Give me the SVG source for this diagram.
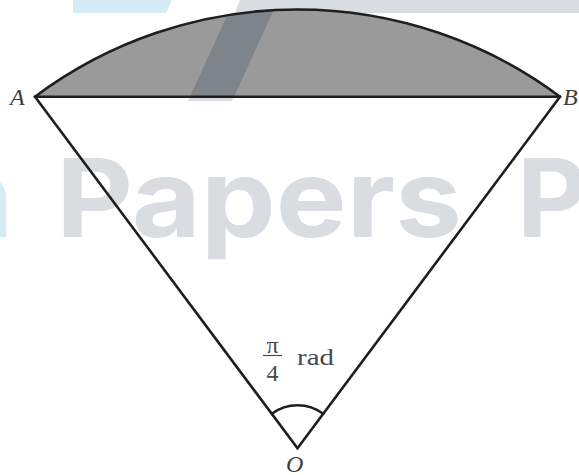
<svg xmlns="http://www.w3.org/2000/svg" width="579" height="475" viewBox="0 0 579 475">
  <style>
    .ln { fill: none; stroke: #1e1e1e; stroke-width: 2.6; stroke-linejoin: round; stroke-linecap: round; }
    .lbl { font-family: "Liberation Serif", "Times New Roman", serif; font-style: italic; font-size: 24px; fill: #3c3c3c; }
    .math { font-family: "Liberation Serif", "Times New Roman", serif; font-size: 24px; fill: #4a4a4a; }
    .wm { font-family: Inter, "Open Sans", sans-serif; font-weight: 700; font-size: 109px; }
  </style>
  <defs>
    <clipPath id="seg">
      <path d="M35,96.7 A438.7,438.7 0 0 1 560,96.7 Z"/>
    </clipPath>
  </defs>
  <rect width="579" height="475" fill="#ffffff"/>
  <!-- watermark -->
  <g id="watermark">
    <polygon points="73,0 172,0 166,13 73,13" fill="#d5ecf5"/>
    <polygon points="240,0 579,0 579,13 235,13" fill="#d9dde1"/>
    <polygon points="188,101 232,101 276,13 232,13" fill="#d9dde1"/>
    <text class="wm" x="13" y="237" text-anchor="end" fill="#d5ecf5">n</text>
    <text class="wm" x="56" y="237" textLength="406" lengthAdjust="spacingAndGlyphs" fill="#d9dde1">Papers</text>
    <text class="wm" x="517" y="237" fill="#d9dde1">P</text>
  </g>
  <!-- shaded segment -->
  <g id="segment">
    <path d="M35,96.7 A438.7,438.7 0 0 1 560,96.7 Z" fill="#9a9a9a"/>
    <polygon points="188,101 232,101 276,5 232,5" fill="#7d848a" clip-path="url(#seg)"/>
  </g>
  <g id="connectors">
    <path class="ln" d="M35,96.7 A438.7,438.7 0 0 1 560,96.7" stroke-width="3"/>
    <line class="ln" x1="35" y1="96.7" x2="560" y2="96.7" stroke-width="3"/>
    <line class="ln" x1="35" y1="96.7" x2="297.5" y2="448.3"/>
    <line class="ln" x1="560" y1="96.7" x2="297.5" y2="448.3"/>
    <path class="ln" d="M271.8,413.8 A43,43 0 0 1 323.2,413.8" stroke-width="2.2"/>
  </g>
  <g id="node-A"><text class="lbl" x="10" y="105">A</text></g>
  <g id="node-B"><text class="lbl" x="563" y="105">B</text></g>
  <g id="node-O"><text class="lbl" x="286" y="472">O</text></g>
  <g id="angle-label">
    <text class="math" x="272.5" y="353" text-anchor="middle">π</text>
    <line x1="263" y1="355.5" x2="282" y2="355.5" stroke="#4a4a4a" stroke-width="1.2"/>
    <text class="math" x="272.5" y="381" text-anchor="middle">4</text>
    <text class="math" x="297" y="365" textLength="37" lengthAdjust="spacingAndGlyphs">rad</text>
  </g>
</svg>
